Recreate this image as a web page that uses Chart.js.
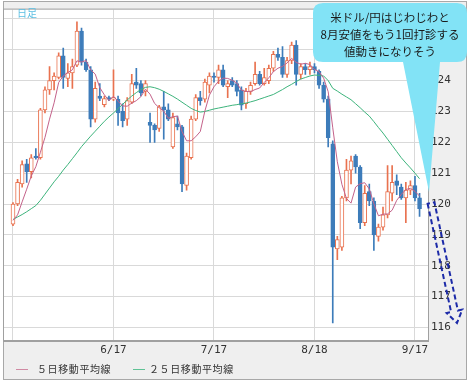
<!DOCTYPE html>
<html lang="ja">
<head>
<meta charset="utf-8">
<title>米ドル/円 日足</title>
<script src="https://cdn.jsdelivr.net/npm/chart.js@4.4.1/dist/chart.umd.min.js"></script>
<style>
	html, body { margin: 0; padding: 0; background: #fff; }
	.wrap { position: relative; width: 473px; height: 385px; overflow: hidden; }
	#chart { position: absolute; left: 0; top: 0; }
	.ttl {
		position: absolute; left: 17px; top: 8px;
		font: 10px/10px 'Noto Sans CJK JP', sans-serif; color: #5dbfe2;
	}
	.legend span {
		position: absolute; top: 362px;
		font: 10px/13px 'Noto Sans CJK JP', sans-serif; color: #333; letter-spacing: 0.6px;
		white-space: nowrap;
	}
	.legend i { position: absolute; top: 369px; width: 12px; height: 1px; }
	svg.over { position: absolute; left: 0; top: 0; pointer-events: none; }
</style>
</head>
<body>
<div class="wrap">
	<canvas id="chart" width="473" height="385"></canvas>
	<div class="ttl">日足</div>
	<div class="legend">
		<i style="left:16px;background:#d08aa3"></i><span style="left:37px">５日移動平均線</span>
		<i style="left:133px;background:#5fc295"></i><span style="left:149px">２５日移動平均線</span>
	</div>
	<svg class="over" width="473" height="385">
		<path d="M323 3 H457 Q467 3 467 13 V52 Q467 62 457 62 H440 L429 192 L403 62 H323 Q313 62 313 52 V13 Q313 3 323 3 Z" fill="#82e3f6"/>
		<g font-family="'Noto Sans CJK JP', sans-serif" font-size="11.5" fill="#1a1a1a" text-anchor="middle" dominant-baseline="central">
			<text x="390" y="17">米ドル/円はじわじわと</text>
			<text x="390" y="34">8月安値をもう1回打診する</text>
			<text x="390" y="51">値動きになりそう</text>
		</g>
		<path d="M427.6 203.7 L451.1 312 L446.7 313 L457 323 L462.3 309.6 L457.9 310.6 L434.4 202.3 Z"
			fill="none" stroke="#1c2aa8" stroke-width="2" stroke-dasharray="5 3" stroke-linejoin="miter"/>
	</svg>
</div>
<script>
	// 営業日 (2015/5/18 - 9/18)
	const dates = ['5/18','5/19','5/20','5/21','5/22','5/25','5/26','5/27','5/28','5/29',
		'6/1','6/2','6/3','6/4','6/5','6/8','6/9','6/10','6/11','6/12','6/15','6/16','6/17','6/18','6/19','6/22','6/23','6/24','6/25','6/26','6/29','6/30',
		'7/1','7/2','7/3','7/6','7/7','7/8','7/9','7/10','7/13','7/14','7/15','7/16','7/17','7/20','7/21','7/22','7/23','7/24','7/27','7/28','7/29','7/30','7/31',
		'8/3','8/4','8/5','8/6','8/7','8/10','8/11','8/12','8/13','8/14','8/17','8/18','8/19','8/20','8/21','8/24','8/25','8/26','8/27','8/28','8/31',
		'9/1','9/2','9/3','9/4','9/7','9/8','9/9','9/10','9/11','9/14','9/15','9/16','9/17','9/18'];

	const opens = [119.35,120.00,120.65,121.30,121.05,121.55,121.50,123.05,123.70,124.00,
		124.10,124.80,124.07,124.25,124.50,125.60,124.60,124.35,122.75,123.50,
		123.22,123.45,123.40,123.40,123.00,122.75,123.30,123.95,123.90,123.65,
		122.65,122.55,122.45,123.15,123.05,121.85,122.60,122.50,120.60,121.50,
		122.75,123.45,123.40,123.85,124.15,124.10,124.35,123.80,124.00,123.90,
		123.70,123.25,123.65,123.90,124.20,123.90,124.00,124.40,124.85,124.75,
		124.20,124.65,125.15,124.20,124.45,124.35,124.45,124.30,123.85,123.40,
		121.95,118.55,118.60,120.20,121.10,121.55,121.20,119.40,120.40,120.10,
		118.95,119.25,119.65,120.35,120.75,120.55,120.20,120.45,120.60,120.20];

	const highs = [120.05,120.80,121.40,121.45,121.60,121.80,123.10,123.80,124.45,124.25,
		124.90,125.05,124.55,124.70,125.90,125.70,124.70,124.45,123.95,123.90,
		123.50,123.50,124.35,123.50,123.25,123.45,124.20,124.40,124.00,124.00,
		122.95,122.60,123.20,123.65,123.25,122.95,122.85,122.55,121.65,122.85,
		123.55,123.65,124.05,124.25,124.25,124.50,124.50,124.00,124.10,124.00,
		123.80,123.75,123.95,124.60,124.30,124.40,124.50,124.95,125.05,125.10,
		124.75,125.25,125.30,124.55,124.55,124.60,124.55,124.35,123.95,123.50,
		122.05,118.95,120.25,121.45,121.55,121.60,121.25,120.60,120.65,120.20,
		119.35,119.90,121.25,121.25,120.95,120.65,120.70,120.75,120.90,120.35];

	const lows = [119.30,119.95,120.55,120.70,120.85,121.45,121.45,122.95,123.55,123.70,
		124.05,123.75,123.80,123.75,124.45,124.50,124.30,122.50,122.65,123.35,
		123.15,123.35,123.35,122.55,122.50,122.55,123.25,123.75,123.50,123.50,
		122.00,122.00,122.35,122.10,122.70,121.80,122.40,120.40,120.45,121.45,
		122.70,123.20,123.30,123.60,123.95,123.90,123.80,123.45,123.80,123.50,
		123.05,123.10,123.55,123.85,123.85,123.85,123.90,124.30,124.65,124.10,
		124.10,124.55,123.85,124.05,124.20,124.20,124.25,123.75,123.30,121.85,
		116.15,118.20,118.50,120.10,120.65,121.00,119.20,119.30,119.95,118.50,
		118.80,119.15,119.55,120.10,120.30,120.15,119.40,120.30,120.10,119.60];

	const closes = [120.00,120.70,121.28,121.05,121.50,121.50,123.05,123.70,124.00,124.15,
		124.80,124.10,124.25,124.45,125.60,124.60,124.35,122.75,123.75,123.42,
		123.42,123.40,123.45,122.95,122.70,123.35,123.90,123.85,123.60,123.90,
		122.55,122.40,123.15,123.05,122.75,122.80,122.50,120.65,121.55,122.75,
		123.45,123.35,123.95,124.15,124.10,124.35,123.85,123.90,123.85,123.65,
		123.20,123.65,123.85,124.20,123.90,124.10,124.40,124.85,124.75,124.20,
		124.65,125.15,124.20,124.45,124.35,124.45,124.35,123.85,123.40,122.15,
		118.60,118.85,120.20,121.10,121.40,121.20,119.40,120.35,120.10,119.00,
		119.25,119.65,120.40,120.70,120.60,120.20,120.45,120.60,120.20,119.85];

	const ma5 = [119.47,119.65,120.07,120.48,120.91,121.21,121.68,122.16,122.75,123.28,
		123.94,124.15,124.26,124.35,124.64,124.60,124.65,124.35,124.21,123.77,
		123.54,123.35,123.49,123.33,123.18,123.17,123.27,123.35,123.48,123.72,
		123.56,123.26,123.12,123.01,122.78,122.83,122.85,122.35,122.05,122.05,
		122.18,122.35,123.01,123.53,123.80,123.98,124.08,124.07,124.01,123.92,
		123.69,123.65,123.64,123.71,123.76,123.94,124.09,124.29,124.40,124.46,
		124.57,124.72,124.59,124.53,124.56,124.52,124.36,124.29,124.08,123.64,
		122.47,121.37,120.64,120.18,120.03,120.55,120.66,120.69,120.49,120.01,
		119.62,119.67,119.68,119.80,120.12,120.31,120.47,120.51,120.41,120.26];

	const ma25 = [119.50,119.58,119.66,119.75,119.85,119.95,120.12,120.32,120.52,120.72,
		120.90,121.10,121.28,121.47,121.66,121.86,122.03,122.20,122.36,122.52,
		122.68,122.82,122.95,123.09,123.23,123.37,123.50,123.61,123.71,123.78,
		123.80,123.77,123.72,123.65,123.57,123.49,123.40,123.30,123.20,123.10,
		123.03,122.98,123.00,123.04,123.08,123.11,123.14,123.17,123.20,123.22,
		123.25,123.27,123.31,123.35,123.40,123.45,123.50,123.55,123.63,123.71,
		123.80,123.88,123.97,124.05,124.10,124.15,124.18,124.17,124.15,124.00,
		123.75,123.66,123.56,123.47,123.38,123.25,123.12,122.98,122.85,122.67,
		122.48,122.30,122.10,121.90,121.70,121.50,121.33,121.17,121.00,120.82];

	const tickIdx = [0, 22, 44, 66, 88];
	const yTicks = [116, 117, 118, 119, 120, 121, 122, 123, 124, 125, 126];

	const upColor = '#e9724f';
	const downColor = '#3d7cba';
	const isUp = i => closes[i] >= opens[i];

	const axisFont = { family: "'DejaVu Sans Mono', monospace", size: 11 };

	// 背景と枠
	const frame = {
		id: 'frame',
		beforeDraw(chart) {
			const { ctx, chartArea: a } = chart;
			ctx.save();
			ctx.fillStyle = '#fff';
			ctx.fillRect(0, 0, chart.width, chart.height);
			ctx.fillStyle = '#efefef';
			ctx.fillRect(3, 1, 464, 379);
			ctx.strokeStyle = '#a8a8a8';
			ctx.lineWidth = 1;
			ctx.strokeRect(3.5, 1.5, 463, 378);
			ctx.fillStyle = '#fff';
			ctx.fillRect(a.left, a.top, a.right - a.left, a.bottom - a.top);
			ctx.restore();
		},
		afterDraw(chart) {
			const { ctx, chartArea: a } = chart;
			ctx.save();
			ctx.strokeStyle = '#a0a0a0';
			ctx.lineWidth = 1;
			ctx.strokeRect(a.left - 0.5, a.top - 0.5, a.right - a.left + 1, a.bottom - a.top + 1);
			ctx.fillStyle = '#a0a0a0';
			ctx.fillRect(a.left - 1, a.bottom, a.right - a.left + 2, 2);
			ctx.restore();
		}
	};

	new Chart(document.getElementById('chart'), {
		type: 'bar',
		data: {
			datasets: [
				{
					type: 'line',
					label: '5日移動平均線',
					data: ma5.map((v, i) => ({ x: i, y: v })),
					borderColor: '#c4628a',
					borderWidth: 1,
					pointRadius: 0,
					tension: 0,
					order: 0
				},
				{
					type: 'line',
					label: '25日移動平均線',
					data: ma25.map((v, i) => ({ x: i, y: v })),
					borderColor: '#3db47c',
					borderWidth: 1,
					pointRadius: 0,
					tension: 0,
					order: 0
				},
				{
					label: 'body', //実体
					data: dates.map((d, i) => ({ x: i, y: [Math.min(opens[i], closes[i]), Math.max(opens[i], closes[i])] })),
					backgroundColor: c => isUp(c.dataIndex) ? '#fff' : downColor,
					borderColor: c => isUp(c.dataIndex) ? upColor : downColor,
					borderWidth: 1,
					borderSkipped: false,
					barThickness: 4,
					minBarLength: 1,
					grouped: false,
					order: 1
				},
				{
					label: 'wick', //ヒゲ
					data: dates.map((d, i) => ({ x: i, y: [lows[i], highs[i]] })),
					backgroundColor: c => isUp(c.dataIndex) ? upColor : downColor,
					borderWidth: 0,
					barThickness: 1,
					grouped: false,
					order: 2
				}
			]
		},
		options: {
			responsive: false,
			animation: false,
			events: [],
			layout: { padding: { left: 4, top: 7, right: 0, bottom: 0 } },
			plugins: { legend: { display: false }, tooltip: { enabled: false } },
			scales: {
				x: {
					type: 'linear',
					min: -1.97,
					max: 90.85,
					offset: false,
					grid: { color: '#d9d9d9', drawTicks: false, offset: false },
					border: { display: false },
					afterBuildTicks: s => { s.ticks = tickIdx.map(v => ({ value: v })); },
					afterFit: s => { s.height = 45; },
					ticks: {
						autoSkip: false,
						maxRotation: 0,
						padding: 4,
						color: '#333',
						font: axisFont,
						callback: v => v === 0 ? '' : dates[v]
					}
				},
				y: {
					type: 'linear',
					position: 'right',
					min: 115.595,
					max: 126.3,
					grid: { color: '#d9d9d9', drawTicks: false },
					border: { display: false },
					afterBuildTicks: s => { s.ticks = yTicks.map(v => ({ value: v })); },
					afterFit: s => { s.width = 45; },
					ticks: { padding: 3, color: '#333', font: axisFont }
				}
			}
		},
		plugins: [frame]
	});
</script>
</body>
</html>
